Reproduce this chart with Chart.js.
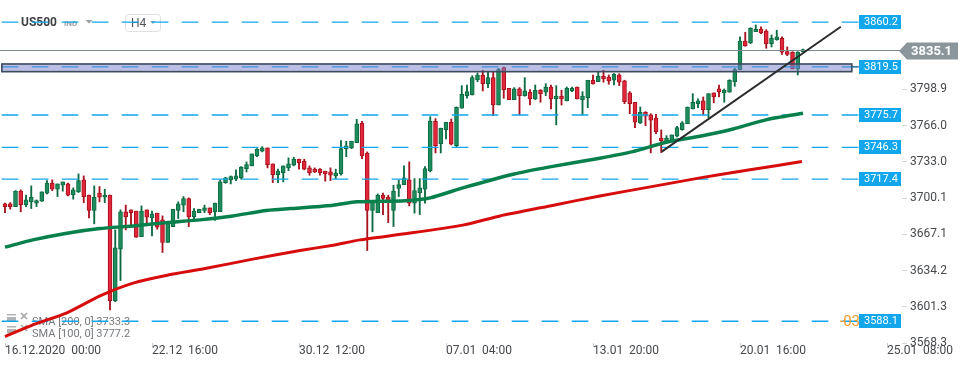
<!DOCTYPE html>
<html lang="en">
<head>
<meta charset="UTF-8">
<title>US500 H4</title>
<script src="https://cdn.jsdelivr.net/npm/chart.js"></script>
<style>
  html, body { margin: 0; padding: 0; background: #fff; }
  canvas { display: block; }
</style>
</head>
<body>
<canvas id="chart" width="970" height="368"></canvas>
<script>
// H4 candles, 16.12.2020 00:00 onwards (index 0 = first candle)
const opens = [3694.8,3694.8,3692.4,3706.4,3694.2,3696.7,3695.5,3697.3,3704.6,3713.7,3708.2,3711.8,3713.0,3703.3,3705.8,3716.7,3702.8,3688.8,3704.6,3700.9,
  3702.8,3606.9,3653.7,3687.6,3689.4,3688.2,3665.1,3689.4,3682.1,3686.4,3680.3,3659.7,3674.2,3688.8,3693.7,3699.7,3683.3,3686.9,3688.8,3691.2,
  3687.6,3687.8,3714.2,3716.7,3717.3,3718.5,3726.9,3729.4,3738.5,3742.8,3745.8,3731.2,3721.5,3723.3,3727.6,3730.0,3735.5,3733.7,3727.6,3726.4,
  3726.4,3724.6,3723.9,3720.3,3722.1,3745.1,3745.8,3750.6,3768.2,3740.9,3688.8,3686.9,3702.8,3700.9,3688.8,3708.8,3712.4,3716.7,3695.5,3705.1,
  3708.2,3725.1,3770.0,3749.7,3762.4,3769.1,3747.8,3781.8,3793.3,3793.9,3807.8,3812.1,3804.2,3809.7,3784.8,3818.8,3800.0,3789.7,3799.4,3793.3,
  3796.4,3790.3,3798.2,3796.4,3801.2,3790.3,3792.8,3788.5,3797.6,3801.2,3789.7,3791.5,3807.3,3806.0,3810.9,3810.3,3807.3,3812.1,3806.7,3795.8,
  3787.3,3768.5,3778.2,3775.8,3772.8,3754.8,3751.5,3752.8,3756.4,3762.4,3767.8,3781.2,3786.0,3788.5,3780.6,3795.8,3799.4,3795.8,3796.4,3806.0,
  3816.9,3843.0,3841.2,3851.5,3853.9,3852.1,3840.6,3844.2,3845.5,3833.3,3832.8,3817.6,3833.3];
const highs = [3695.5,3696.0,3706.9,3707.6,3702.8,3711.2,3698.5,3705.8,3716.0,3716.7,3713.0,3714.8,3713.7,3709.4,3722.1,3720.3,3702.8,3711.2,3710.6,3708.2,
  3702.8,3671.2,3689.4,3693.7,3689.4,3688.2,3693.0,3689.4,3688.2,3686.4,3683.9,3677.3,3690.0,3696.7,3701.5,3700.3,3690.6,3690.0,3693.7,3691.2,
  3695.5,3716.7,3719.1,3720.3,3725.8,3728.8,3733.0,3740.3,3745.1,3746.9,3745.8,3731.2,3726.4,3729.4,3736.7,3737.3,3735.5,3735.5,3729.4,3727.6,
  3727.0,3724.6,3727.6,3726.4,3752.4,3751.8,3751.8,3771.8,3770.0,3742.1,3697.8,3703.9,3704.6,3702.8,3711.8,3716.7,3729.4,3733.0,3717.8,3717.8,
  3728.8,3774.2,3772.4,3763.7,3769.1,3772.1,3783.0,3802.4,3803.0,3811.5,3813.9,3816.4,3814.6,3814.6,3818.2,3819.4,3800.0,3800.6,3800.6,3809.7,
  3798.8,3803.0,3798.8,3804.2,3803.0,3802.4,3798.2,3801.2,3801.2,3801.2,3796.9,3807.3,3812.1,3814.6,3816.4,3812.1,3813.3,3813.3,3807.3,3796.9,
  3787.3,3783.0,3778.8,3776.9,3776.4,3762.1,3756.9,3757.6,3765.5,3769.7,3783.0,3795.1,3790.3,3792.1,3795.1,3795.8,3803.0,3799.4,3807.8,3818.2,
  3846.7,3850.9,3855.1,3857.6,3855.8,3853.3,3848.5,3852.8,3846.7,3837.6,3833.3,3833.3,3835.7];
const lows = [3686.9,3690.0,3692.4,3687.6,3692.4,3690.6,3692.4,3697.0,3703.9,3706.9,3701.5,3706.4,3702.1,3699.1,3705.2,3696.0,3682.1,3676.7,3696.7,3696.0,
  3598.5,3605.8,3625.1,3671.2,3676.0,3664.3,3665.1,3677.3,3665.8,3671.8,3650.6,3659.7,3674.2,3681.5,3687.6,3674.2,3679.1,3686.9,3686.9,3685.1,
  3679.7,3687.8,3713.6,3713.0,3716.0,3717.3,3723.9,3729.4,3737.8,3742.1,3727.6,3714.2,3714.2,3714.8,3725.1,3729.4,3726.4,3725.8,3720.9,3723.3,
  3720.9,3715.5,3716.0,3717.8,3720.9,3737.8,3745.1,3750.6,3736.0,3652.4,3669.4,3686.9,3685.1,3677.8,3674.2,3701.5,3712.4,3693.0,3686.4,3685.1,
  3695.5,3723.9,3741.2,3741.2,3753.9,3748.5,3746.7,3781.8,3790.9,3793.9,3806.0,3797.6,3800.6,3775.1,3784.8,3790.9,3789.7,3789.7,3775.8,3792.8,
  3784.8,3789.7,3787.3,3793.3,3781.2,3766.7,3784.8,3788.5,3796.9,3790.3,3775.8,3782.4,3803.7,3806.0,3805.5,3803.7,3803.0,3802.4,3786.0,3776.9,
  3764.2,3767.9,3766.0,3741.2,3758.8,3741.5,3750.3,3751.5,3755.8,3761.8,3767.8,3781.2,3782.4,3775.8,3773.3,3786.7,3792.1,3787.3,3796.4,3801.8,
  3816.9,3838.2,3840.6,3851.5,3849.7,3836.4,3837.6,3843.7,3830.9,3829.7,3817.6,3812.1,3833.3];
const closes = [3692.4,3692.4,3706.4,3694.2,3698.5,3700.9,3697.8,3705.8,3713.7,3708.2,3713.0,3714.8,3702.8,3707.6,3716.0,3701.5,3688.8,3700.9,3700.9,3702.8,
  3606.9,3654.8,3687.6,3683.3,3686.9,3664.6,3688.2,3682.8,3685.8,3673.7,3659.7,3677.3,3690.0,3694.8,3699.7,3683.3,3688.2,3690.0,3691.2,3686.9,
  3695.5,3714.8,3718.5,3719.7,3720.3,3728.2,3730.6,3740.3,3744.6,3745.8,3730.6,3721.5,3724.6,3729.4,3731.2,3735.5,3732.4,3726.4,3723.3,3723.9,
  3723.3,3722.1,3720.9,3722.8,3745.1,3747.6,3751.8,3767.6,3738.5,3688.8,3697.8,3702.8,3699.7,3697.8,3706.4,3712.4,3718.5,3695.5,3706.9,3709.4,
  3726.9,3770.0,3747.6,3763.7,3769.1,3749.1,3783.0,3794.6,3796.9,3809.7,3812.1,3804.2,3809.7,3784.8,3816.9,3798.8,3789.7,3799.4,3793.3,3797.6,
  3790.3,3798.2,3795.1,3801.2,3790.3,3792.8,3790.3,3800.0,3800.0,3790.3,3792.8,3807.3,3804.2,3810.9,3808.5,3806.7,3812.8,3805.5,3787.8,3786.0,
  3769.1,3778.2,3774.6,3770.9,3760.6,3752.4,3754.6,3757.6,3764.2,3768.5,3783.0,3787.3,3788.5,3780.6,3795.1,3792.1,3796.9,3798.2,3807.3,3816.9,
  3843.0,3838.8,3854.6,3853.9,3850.3,3840.6,3845.5,3846.7,3832.8,3830.9,3817.6,3832.8,3835.1];

// moving averages (candle index, value)
const sma100Idx = [0, 5.3, 11.8, 18.1, 24.4, 30.8, 37.1, 43.4, 49.8, 56.2, 62.5, 67, 76.2, 81, 87.2, 96.8, 103.8, 113.3, 119.6, 126, 132.4, 138.7, 145.1, 152];
const sma100 = [3655.5, 3662.1, 3668.2, 3672.4, 3674.8, 3677.8, 3680.3, 3683.9, 3688.8, 3691.2, 3693.7, 3696.7, 3697.8, 3700.3, 3709.4, 3721.8, 3728.5, 3736.4, 3742.4, 3750.9, 3756.4, 3763.0, 3771.5, 3777.2];
const sma200Idx = [0, 5.3, 11.8, 18.1, 24.4, 30.9, 38.1, 47.2, 56.2, 62.5, 67.6, 76.2, 87.2, 94.3, 103.8, 113.3, 122.9, 132.4, 141.9, 151.8];
const sma200 = [3574.2, 3584.8, 3595.8, 3611.2, 3622.8, 3630.0, 3636.0, 3644.6, 3652.4, 3657.3, 3662.1, 3667.6, 3675.5, 3683.9, 3693.0, 3702.1, 3710.3, 3718.5, 3725.8, 3733.3];

// trend line drawn on the chart
const trendIdx = [125.1, 159.2];
const trendVal = [3742.4, 3856.0];

const tickIndex = [0, 28, 56, 84, 112, 140, 168];
const tickLabels = ['16.12.2020  00:00', '22.12  16:00', '30.12  12:00', '07.01  04:00', '13.01  20:00', '20.01  16:00', '25.01  08:00'];
const priceTicks = [3568.3, 3601.3, 3634.2, 3667.1, 3700.1, 3733.0, 3766.0, 3798.9];

const levels = [3860.2, 3819.5, 3775.7, 3746.3, 3717.4, 3588.1];
const zone = [3815.1, 3822.1];
const lastPrice = 3835.1;

const GREEN = '#1e8c5c', GREEN_D = '#0c6b41';
const RED = '#e2263b', RED_D = '#a8131f';
const BLUE = '#12a7ec';

const up = i => closes[i] >= opens[i];
const wickData = opens.map((o, i) => ({ x: i, y: [lows[i], highs[i]] }));
const bodyData = opens.map((o, i) => ({ x: i, y: [Math.min(o, closes[i]), Math.max(o, closes[i])] }));

const overlay = {
  id: 'overlay',
  beforeDatasetsDraw(chart) {
    const ctx = chart.ctx;
    ctx.save();
    ctx.textBaseline = 'middle';
    ctx.font = 'bold 12px Roboto';
    ctx.fillStyle = '#3d3f41';
    ctx.fillText('US500', 21, 23);
    ctx.font = 'bold 8px Roboto';
    ctx.fillStyle = '#9ba1a6';
    ctx.fillText('IND', 64, 24);
    ctx.beginPath();
    ctx.moveTo(85.5, 20); ctx.lineTo(92.5, 20); ctx.lineTo(89, 23.5); ctx.closePath();
    ctx.fill();
    ctx.strokeStyle = '#dfe1e3';
    ctx.lineWidth = 1;
    ctx.beginPath();
    ctx.roundRect(125.5, 14.5, 35, 17, 3);
    ctx.stroke();
    ctx.font = '12px Roboto';
    ctx.fillStyle = '#4f5255';
    ctx.fillText('H4', 131, 23.5);
    ctx.fillStyle = '#a3a8ac';
    ctx.beginPath();
    ctx.moveTo(150, 21); ctx.lineTo(156, 21); ctx.lineTo(153, 24); ctx.closePath();
    ctx.fill();

    // indicator legend, bottom left
    const rows = [['SMA [200, 0] 3733.3', 322], ['SMA [100, 0] 3777.2', 334]];
    ctx.font = '11px Roboto';
    rows.forEach(([txt, y]) => {
      ctx.fillStyle = '#b0b3b6';
      ctx.fillRect(7, y - 5, 9, 4);
      ctx.fillRect(7, y - 8, 9, 1.5);
      ctx.strokeStyle = '#a4a7aa';
      ctx.lineWidth = 1.6;
      ctx.beginPath();
      ctx.moveTo(21, y - 9); ctx.lineTo(27, y - 3);
      ctx.moveTo(27, y - 9); ctx.lineTo(21, y - 3);
      ctx.stroke();
      ctx.fillStyle = '#76797c';
      ctx.fillText(txt, 32, y);
    });
    ctx.restore();
  },
  afterDatasetDraw(chart, args) {
    if (args.index !== 1) return;
    const ctx = chart.ctx, ys = chart.scales.y, xs = chart.scales.x, area = chart.chartArea;
    const boxLeft = area.right - 43;
    ctx.save();
    // price levels
    ctx.strokeStyle = BLUE;
    ctx.lineWidth = 1.3;
    ctx.setLineDash([16.7, 13.3]);
    ctx.lineDashOffset = 28.3;
    levels.forEach(v => {
      const y = ys.getPixelForValue(v);
      ctx.beginPath();
      ctx.moveTo(area.left, y);
      ctx.lineTo(boxLeft, y);
      ctx.stroke();
    });
    ctx.setLineDash([]);
    // last price line
    const yl = ys.getPixelForValue(lastPrice);
    ctx.strokeStyle = '#7f8a90';
    ctx.lineWidth = 1;
    ctx.beginPath();
    ctx.moveTo(area.left, Math.round(yl) + 0.5);
    ctx.lineTo(area.right, Math.round(yl) + 0.5);
    ctx.stroke();
    // zone
    const zt = ys.getPixelForValue(zone[1]), zb = ys.getPixelForValue(zone[0]);
    const zl = xs.getPixelForValue(-0.6), zr = xs.getPixelForValue(161.3);
    ctx.fillStyle = 'rgba(118, 126, 204, 0.5)';
    ctx.fillRect(zl, zt, zr - zl, zb - zt);
    ctx.strokeStyle = '#3d4a5c';
    ctx.lineWidth = 1.6;
    ctx.strokeRect(zl, zt, zr - zl, zb - zt);
    ctx.beginPath();
    const ym = ys.getPixelForValue(levels[1]);
    ctx.moveTo(zr, ym); ctx.lineTo(boxLeft, ym);
    ctx.strokeStyle = '#3d5a80';
    ctx.lineWidth = 1;
    ctx.stroke();
    ctx.restore();
  },
  afterDraw(chart) {
    const ctx = chart.ctx, ys = chart.scales.y, area = chart.chartArea;
    const boxLeft = area.right - 43;
    ctx.save();
    ctx.textBaseline = 'middle';
    // partly hidden orange label
    const yo = ys.getPixelForValue(levels[5]);
    ctx.strokeStyle = '#f39a2b';
    ctx.lineWidth = 1.2;
    ctx.beginPath(); ctx.moveTo(boxLeft - 19, yo); ctx.lineTo(boxLeft - 14, yo); ctx.stroke();
    ctx.fillStyle = '#f39a2b';
    ctx.font = '15px Roboto';
    ctx.textAlign = 'right';
    ctx.fillText('03', boxLeft + 1, yo + 1);
    ctx.textAlign = 'left';
    // level boxes
    ctx.font = '11px Roboto';
    levels.forEach(v => {
      const y = ys.getPixelForValue(v);
      ctx.fillStyle = BLUE;
      ctx.fillRect(boxLeft, Math.round(y) - 7, 42, 14);
      ctx.fillStyle = '#ffffff';
      ctx.fillText(v.toFixed(1), boxLeft + 5, Math.round(y) + 0.5);
    });
    // last price tag
    const yl = Math.round(ys.getPixelForValue(lastPrice)) + 1;
    const tip = area.right - 3;
    ctx.fillStyle = '#8b969c';
    ctx.beginPath();
    ctx.moveTo(tip, yl);
    ctx.lineTo(tip + 8, yl - 8.5);
    ctx.lineTo(tip + 59, yl - 8.5);
    ctx.lineTo(tip + 59, yl + 8.5);
    ctx.lineTo(tip + 8, yl + 8.5);
    ctx.closePath();
    ctx.fill();
    ctx.fillStyle = '#ffffff';
    ctx.font = 'bold 13px Roboto';
    ctx.fillText(lastPrice.toFixed(1), tip + 12, yl + 0.5);
    ctx.restore();
  }
};

new Chart(document.getElementById('chart'), {
  type: 'bar',
  data: {
    datasets: [
      {
        label: 'wick', data: wickData, order: 4, grouped: false, barThickness: 1.2,
        backgroundColor: wickData.map((d, i) => up(i) ? GREEN_D : RED_D), borderWidth: 0
      },
      {
        label: 'body', data: bodyData, order: 3, grouped: false, barThickness: 4, minBarLength: 1.5,
        backgroundColor: bodyData.map((d, i) => up(i) ? GREEN : RED),
        borderColor: bodyData.map((d, i) => up(i) ? GREEN_D : RED_D),
        borderWidth: 1, borderSkipped: false
      },
      {
        type: 'line', label: 'SMA 200', order: 2,
        data: sma200Idx.map((x, i) => ({ x, y: sma200[i] })),
        borderColor: '#d70c0c', borderWidth: 3, pointRadius: 0, tension: 0.2
      },
      {
        type: 'line', label: 'SMA 100', order: 1,
        data: sma100Idx.map((x, i) => ({ x, y: sma100[i] })),
        borderColor: '#07804c', borderWidth: 3.5, pointRadius: 0, tension: 0.2
      },
      {
        type: 'line', label: 'trend', order: 0,
        data: trendIdx.map((x, i) => ({ x, y: trendVal[i] })),
        borderColor: '#2a2c2e', borderWidth: 2, pointRadius: 0
      }
    ]
  },
  options: {
    responsive: false,
    animation: false,
    layout: { padding: 0 },
    plugins: { legend: { display: false }, tooltip: { enabled: false } },
    scales: {
      x: {
        type: 'linear', min: -5 / 5.25, max: -5 / 5.25 + 902 / 5.25, offset: false,
        grid: { drawOnChartArea: false, offset: false, tickLength: 4, color: '#c9ced2' },
        border: { display: false },
        ticks: {
          autoSkip: false, maxRotation: 0, align: 'start', padding: -2, color: '#46494c',
          font: { family: 'Roboto', size: 12, lineHeight: 1 },
          callback: v => tickLabels[tickIndex.indexOf(v)]
        },
        afterBuildTicks: s => { s.ticks = tickIndex.map(v => ({ value: v })); },
        afterFit: s => { s.height = 25; s.paddingLeft = 0; s.paddingRight = 0; }
      },
      y: {
        position: 'right', min: 3568.3, max: 3880.3,
        grid: { drawOnChartArea: false, tickLength: 5, color: '#d3d7da' },
        border: { display: false },
        ticks: {
          padding: 3, color: '#46494c', font: { family: 'Roboto', size: 12 },
          callback: v => v.toFixed(1)
        },
        afterBuildTicks: s => { s.ticks = priceTicks.map(v => ({ value: v })); },
        afterFit: s => { s.width = 68; s.paddingTop = 0; s.paddingBottom = 0; }
      }
    }
  },
  plugins: [overlay]
});
</script>
</body>
</html>
